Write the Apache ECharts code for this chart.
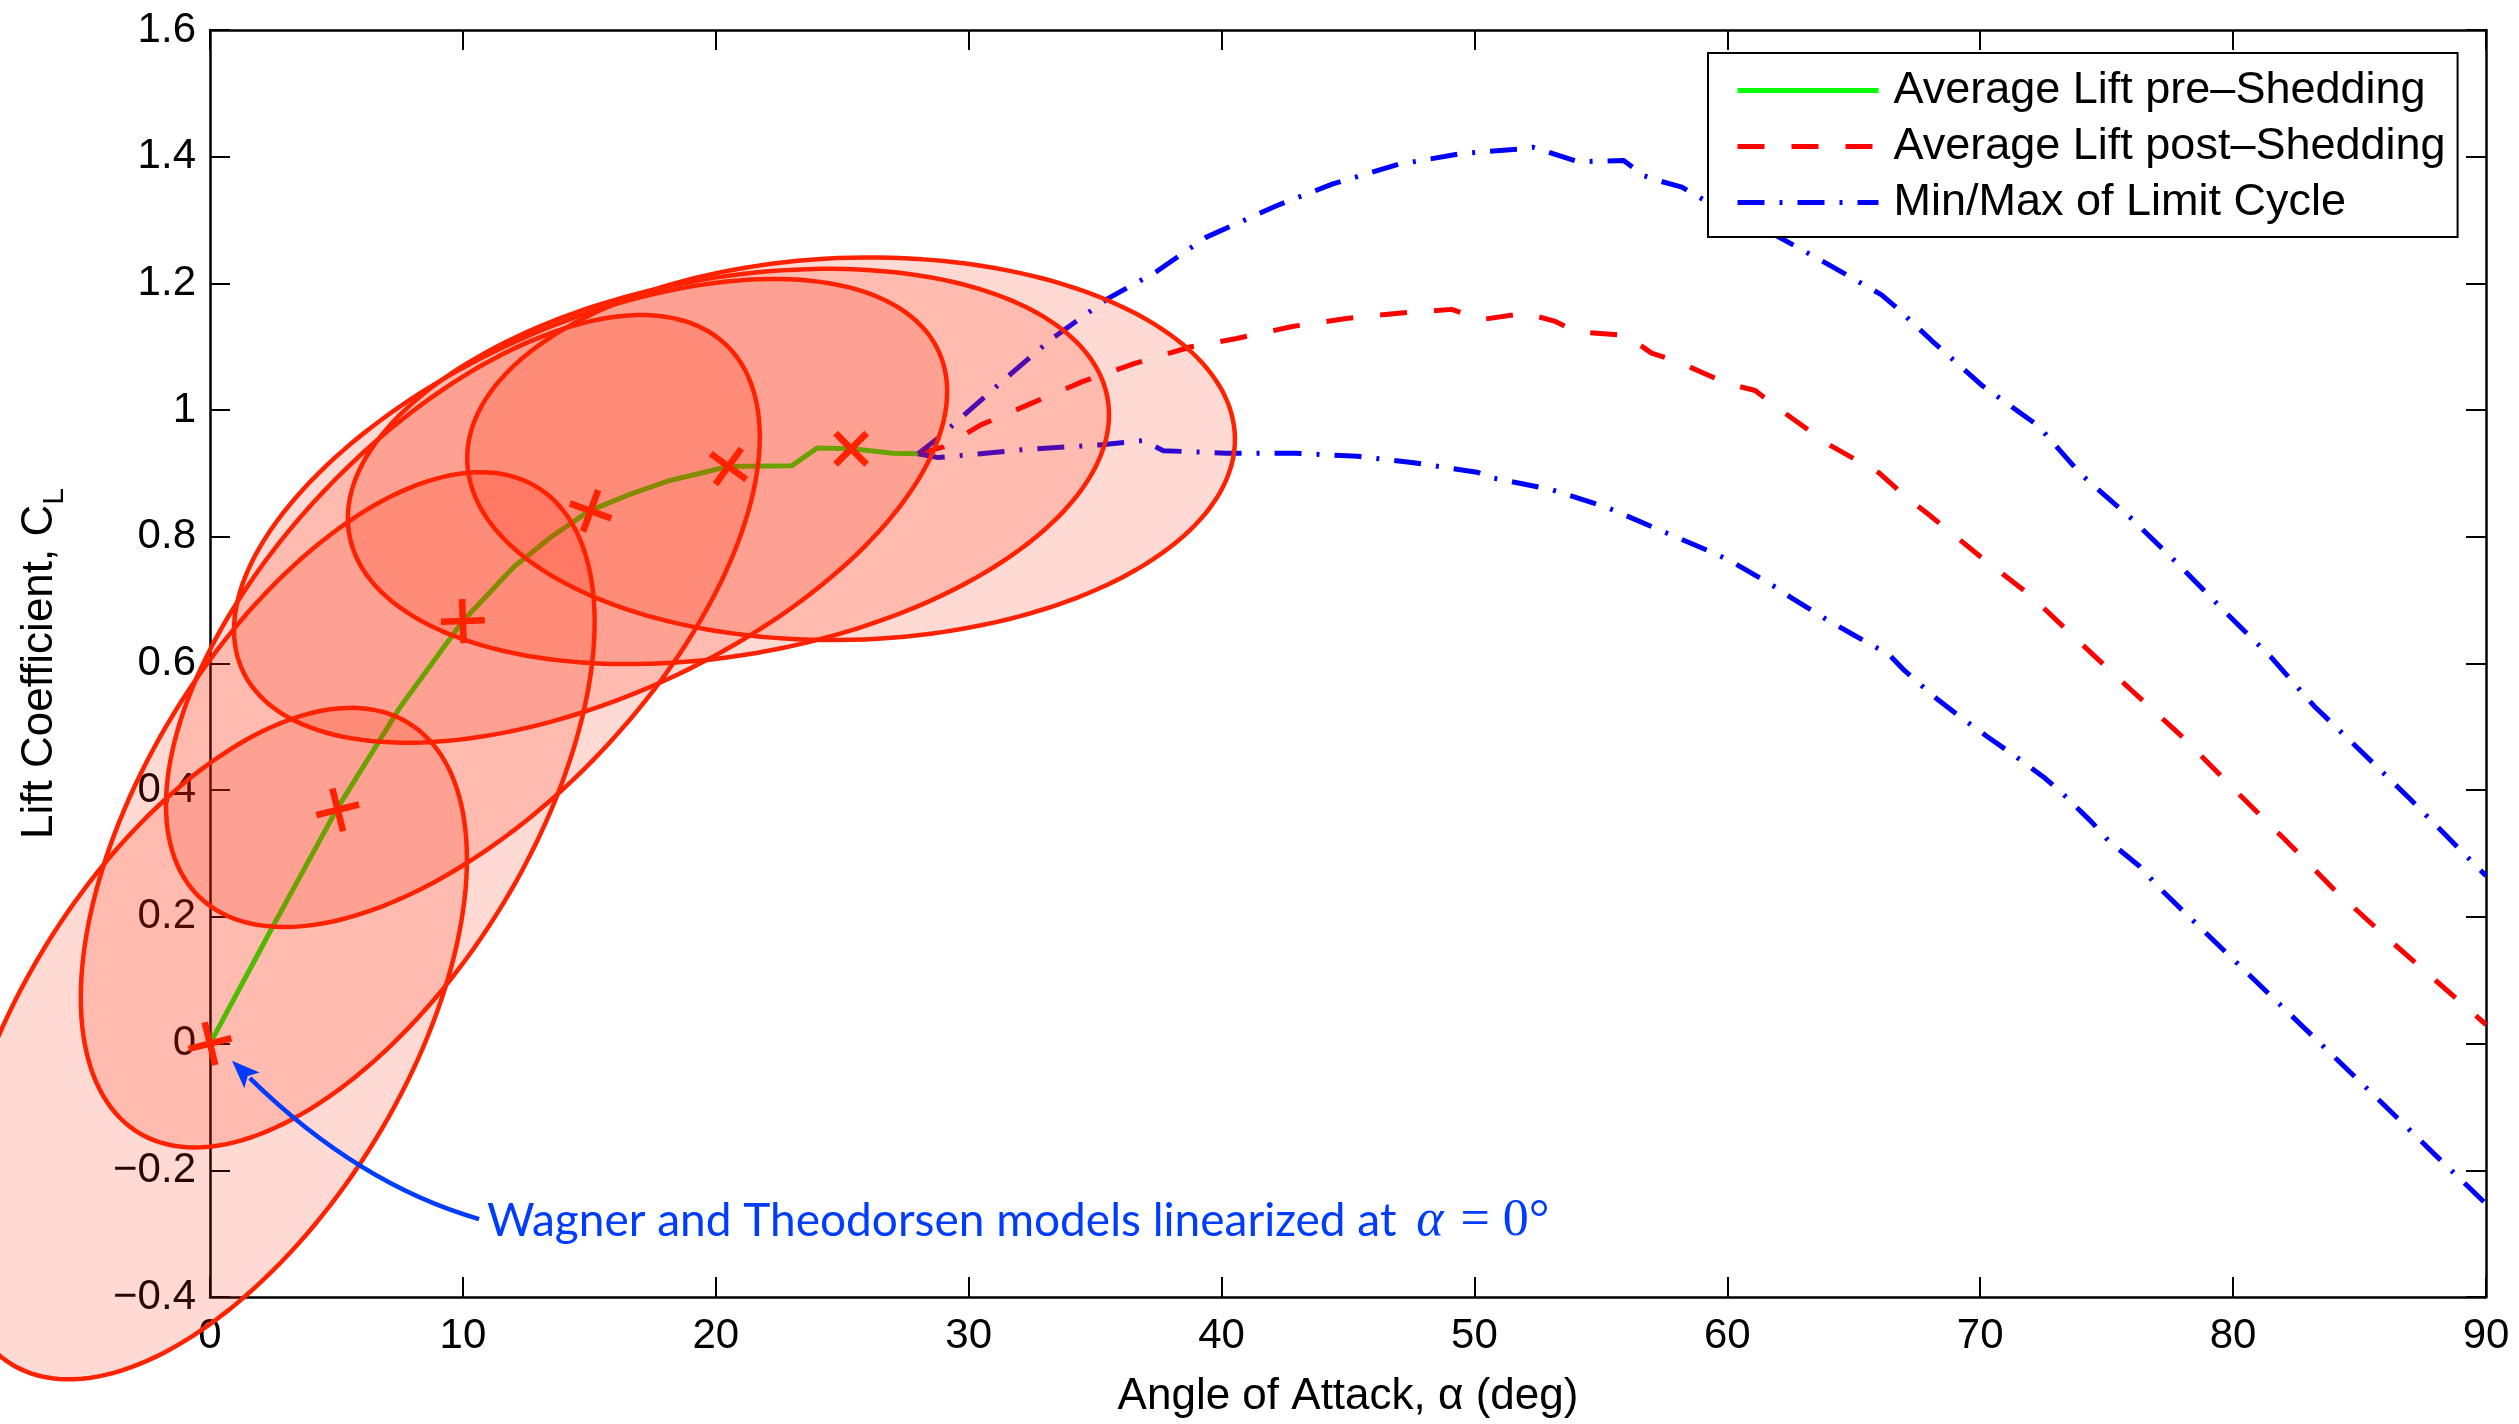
<!DOCTYPE html>
<html>
<head>
<meta charset="utf-8">
<script src="https://cdn.jsdelivr.net/npm/echarts@6/dist/echarts.min.js"></script>
<style>
  html, body { margin: 0; padding: 0; background: #fff; }
  #chart { width: 2519px; height: 1424px; }
</style>
</head>
<body>
<div id="chart"></div>
<script>
// Average lift before vortex shedding (angle of attack in deg, lift coefficient)
const alphaPre = [0, 2.5, 5.0, 7.5, 10.0, 12.0, 13.5, 15.0, 16.6, 18.1, 20.5, 23.0, 24.0, 25.4, 27.0, 28.0];
const clPre    = [0, 0.186, 0.369, 0.530, 0.667, 0.752, 0.800, 0.841, 0.867, 0.888, 0.911, 0.912, 0.940, 0.939, 0.932, 0.931];

// Average lift after shedding starts
const alphaPost = [28.0, 29.0, 30.5, 32.5, 34.5, 36.6, 38.8, 40.6, 42.8, 45.0, 47.0, 49.1, 50.3, 52.0, 53.2, 54.0, 56.0, 57.0, 58.0, 60.0, 61.1, 62.0, 64.0, 66.0, 67.0, 68.0, 70.0, 72.0, 74.0, 76.0, 78.0, 80.0, 82.0, 84.0, 86.0, 88.0, 90.0];
const clPost    = [0.931, 0.942, 0.977, 1.011, 1.045, 1.074, 1.100, 1.113, 1.132, 1.145, 1.153, 1.159, 1.143, 1.153, 1.140, 1.124, 1.118, 1.090, 1.077, 1.042, 1.031, 1.003, 0.946, 0.901, 0.865, 0.834, 0.769, 0.707, 0.631, 0.557, 0.484, 0.403, 0.324, 0.243, 0.170, 0.100, 0.030];

// Limit cycle envelope: maximum
const alphaCycleMax = [28.0, 28.8, 31.4, 33.3, 35.5, 37.4, 39.4, 42.2, 44.4, 47.0, 49.5, 51.7, 52.3, 54.1, 55.9, 56.7, 57.3, 58.2, 60.0, 62.0, 63.9, 66.1, 66.6, 68.1, 70.1, 72.3, 74.0, 76.0, 77.8, 79.7, 81.5, 83.2, 85.2, 87.0, 88.9, 90.0];
const clCycleMax    = [0.931, 0.956, 1.048, 1.113, 1.176, 1.218, 1.273, 1.323, 1.357, 1.388, 1.405, 1.412, 1.415, 1.392, 1.394, 1.370, 1.362, 1.352, 1.310, 1.274, 1.232, 1.182, 1.165, 1.109, 1.038, 0.975, 0.898, 0.828, 0.758, 0.681, 0.610, 0.533, 0.456, 0.386, 0.309, 0.265];

// Limit cycle envelope: minimum
const alphaCycleMin = [28.0, 28.8, 32.3, 35.15, 36.9, 37.7, 40.2, 42.9, 45.4, 47.6, 50.1, 50.7, 53.0, 55.2, 57.6, 59.6, 60.3, 61.8, 62.6, 63.9, 65.0, 66.4, 67.0, 68.2, 69.1, 70.3, 71.2, 72.5, 73.3, 74.4, 75.1, 76.3, 77.1, 80.0, 82.0, 84.0, 86.0, 88.0, 90.0];
const clCycleMin    = [0.931, 0.925, 0.938, 0.945, 0.952, 0.936, 0.932, 0.932, 0.927, 0.917, 0.902, 0.893, 0.875, 0.847, 0.806, 0.772, 0.758, 0.723, 0.702, 0.670, 0.645, 0.614, 0.589, 0.547, 0.519, 0.484, 0.459, 0.421, 0.393, 0.350, 0.319, 0.280, 0.245, 0.133, 0.056, -0.021, -0.098, -0.176, -0.253];

// Sampled operating points and their uncertainty ellipses
const pointAlpha = [0, 5.05, 10.0, 15.05, 20.5, 25.35];
const pointCL    = [0, 0.369, 0.667, 0.841, 0.911, 0.939];
const pointTilt  = [14, 14, 2, -20, -36, -45];
const ellHalfWidth  = [10.16, 10.16, 11.74, 14.10, 15.05, 15.18]; // deg
const ellHalfHeight = [0.530, 0.533, 0.483, 0.366, 0.312, 0.302]; // C_L
const ellTopShift   = [5.58, 5.65, 7.06, 7.25, 3.94, 0.75];       // deg offset of the topmost point

// Annotation pointing at the linearization point
const noteTail = [10.64, -0.277];
const noteBend = [5.87, -0.2225];
const noteTip  = [0.87, -0.027];
const noteAt   = [10.95, -0.280];
const noteText = 'Wagner and Theodorsen models linearized at ';

const NAME_PRE = 'Average Lift pre\u2013Shedding';
const NAME_POST = 'Average Lift post\u2013Shedding';
const NAME_CYCLE = 'Min/Max of Limit Cycle';

const FONT = 'Liberation Sans, Arial, Helvetica, sans-serif';
const pairs = (xs, ys) => xs.map((x, i) => [x, ys[i]]);

const ellipseData = pointAlpha.map((a, i) => [a, pointCL[i], ellHalfWidth[i], ellHalfHeight[i], ellTopShift[i]]);

function renderEllipse(params, api) {
  const cx = api.value(0), cy = api.value(1);
  const w = api.value(2), h = api.value(3), d = api.value(4);
  const s = d * h;                 // covariance term
  const uy = s / w;
  const vy = Math.sqrt(Math.max(h * h - uy * uy, 0));
  const pts = [];
  const N = 180;
  for (let k = 0; k < N; k++) {
    const t = 2 * Math.PI * k / N;
    pts.push(api.coord([cx + w * Math.cos(t), cy + uy * Math.cos(t) + vy * Math.sin(t)]));
  }
  return {
    type: 'polygon',
    shape: { points: pts },
    style: { fill: 'rgba(255,34,0,0.17)', stroke: '#ff2200', lineWidth: 4.5 }
  };
}

function renderNote(params, api) {
  const p0 = api.coord(noteTail);
  const c = api.coord(noteBend);
  const tip = api.coord(noteTip);
  let dx = tip[0] - c[0], dy = tip[1] - c[1];
  const len = Math.hypot(dx, dy); dx /= len; dy /= len;
  const headLen = 28, headHalf = 11;
  const base = [tip[0] - dx * headLen, tip[1] - dy * headLen];
  const px = -dy, py = dx;
  const at = api.coord(noteAt);
  const blue = '#003cff';
  return {
    type: 'group',
    children: [
      {
        type: 'bezierCurve',
        shape: { x1: p0[0], y1: p0[1], cpx1: c[0], cpy1: c[1], x2: base[0] + dx * 3, y2: base[1] + dy * 3 },
        style: { stroke: blue, lineWidth: 4.5, fill: null }
      },
      {
        type: 'polygon',
        shape: { points: [tip, [base[0] + px * headHalf, base[1] + py * headHalf], [base[0] + dx * 6, base[1] + dy * 6], [base[0] - px * headHalf, base[1] - py * headHalf]] },
        style: { fill: blue }
      },
      {
        type: 'text',
        x: at[0], y: at[1],
        style: {
          text: '{t|' + noteText + '}{m|\u03b1}{e| = 0\u00b0}',
          align: 'left', verticalAlign: 'middle',
          rich: {
            t: { fontFamily: 'Lato, Open Sans, sans-serif', fontSize: 46, fill: blue },
            m: { fontFamily: 'Liberation Serif, DejaVu Serif, serif', fontStyle: 'italic', fontSize: 52, fill: blue, padding: [0, 4, 0, 8] },
            e: { fontFamily: 'Liberation Serif, DejaVu Serif, serif', fontSize: 52, fill: blue }
          }
        }
      }
    ]
  };
}

const axisCommon = {
  type: 'value',
  splitLine: { show: false },
  axisLine: { show: true, onZero: false, lineStyle: { color: '#000', width: 2.5 } },
  axisTick: { show: true, inside: true, length: 20, lineStyle: { color: '#000', width: 2 } }
};

const fmtY = v => {
  const r = Math.round(v * 10) / 10;
  return (r < 0 ? '\u2212' : '') + String(Math.abs(r));
};

const chart = echarts.init(document.getElementById('chart'), null, { renderer: 'canvas' });
chart.setOption({
  animation: false,
  backgroundColor: '#fff',
  grid: { left: 210, right: 33, top: 30, bottom: 124, containLabel: false },
  xAxis: [
    Object.assign({}, axisCommon, {
      min: 0, max: 90, interval: 10, position: 'bottom',
      axisLabel: { margin: 18, fontSize: 42, fontFamily: FONT, color: '#000' },
      name: 'Angle of Attack, \u03b1 (deg)', nameLocation: 'middle', nameGap: 78,
      nameTextStyle: { fontSize: 44, fontFamily: FONT, color: '#000' }
    }),
    Object.assign({}, axisCommon, {
      min: 0, max: 90, interval: 10, position: 'top',
      axisLabel: { show: false }
    })
  ],
  yAxis: [
    Object.assign({}, axisCommon, {
      min: -0.4, max: 1.6, interval: 0.2, position: 'left',
      axisLabel: { margin: 14, fontSize: 42, fontFamily: FONT, color: '#000', formatter: fmtY },
      name: '{n|Lift Coefficient, C}{s|L}', nameLocation: 'middle', nameGap: 140, nameRotate: 90,
      nameTextStyle: {
        rich: {
          n: { fontSize: 44, fontFamily: FONT, color: '#000', lineHeight: 60, verticalAlign: 'middle' },
          s: { fontSize: 30, fontFamily: FONT, color: '#000', lineHeight: 30, verticalAlign: 'bottom' }
        }
      }
    }),
    Object.assign({}, axisCommon, {
      min: -0.4, max: 1.6, interval: 0.2, position: 'right',
      axisLabel: { show: false }
    })
  ],
  legend: {
    data: [NAME_PRE, NAME_POST, NAME_CYCLE],
    orient: 'vertical',
    left: 1708, top: 53,
    padding: [15, 12, 12, 27],
    itemWidth: 141, itemHeight: 20, itemGap: 11,
    itemStyle: { opacity: 0 },
    lineStyle: { width: 5 },
    backgroundColor: '#fff', borderColor: '#000', borderWidth: 2, borderRadius: 0,
    textStyle: { fontSize: 45, fontFamily: FONT, color: '#000', padding: [0, 0, 0, 10] },
    z: 10
  },
  series: [
    {
      name: NAME_PRE, type: 'line', z: 2, symbol: 'none', xAxisIndex: 0, yAxisIndex: 0,
      data: pairs(alphaPre, clPre),
      lineStyle: { color: '#00ff00', width: 5 }, itemStyle: { color: '#00ff00' }
    },
    {
      name: NAME_POST, type: 'line', z: 2, symbol: 'none',
      data: pairs(alphaPost, clPost),
      lineStyle: { color: '#ff0000', width: 5, type: [27, 27], cap: 'butt' }, itemStyle: { color: '#ff0000' }
    },
    {
      name: NAME_CYCLE, type: 'line', z: 2, symbol: 'none',
      data: pairs(alphaCycleMax, clCycleMax),
      lineStyle: { color: '#0000ff', width: 5, type: [27, 15, 3, 15], cap: 'butt' }, itemStyle: { color: '#0000ff' }
    },
    {
      name: NAME_CYCLE, type: 'line', z: 2, symbol: 'none',
      data: pairs(alphaCycleMin, clCycleMin),
      lineStyle: { color: '#0000ff', width: 5, type: [27, 15, 3, 15], cap: 'butt' }, itemStyle: { color: '#0000ff' }
    },
    {
      name: 'ellipses', type: 'custom', z: 3, clip: false,
      encode: { x: 0, y: 1 },
      data: ellipseData,
      renderItem: renderEllipse,
      silent: true
    },
    {
      name: 'points', type: 'scatter', z: 4,
      symbol: 'path://M-10,-1.5L10,-1.5L10,1.5L-10,1.5Z M-1.5,-10L1.5,-10L1.5,10L-1.5,10Z',
      symbolSize: 44,
      data: pointAlpha.map((a, i) => ({ value: [a, pointCL[i]], symbolRotate: pointTilt[i] })),
      itemStyle: { color: '#ff2200', opacity: 1 },
      silent: true
    },
    {
      name: 'note', type: 'custom', z: 5, clip: false,
      data: [noteTip],
      renderItem: renderNote,
      silent: true
    }
  ]
});
</script>
</body>
</html>
